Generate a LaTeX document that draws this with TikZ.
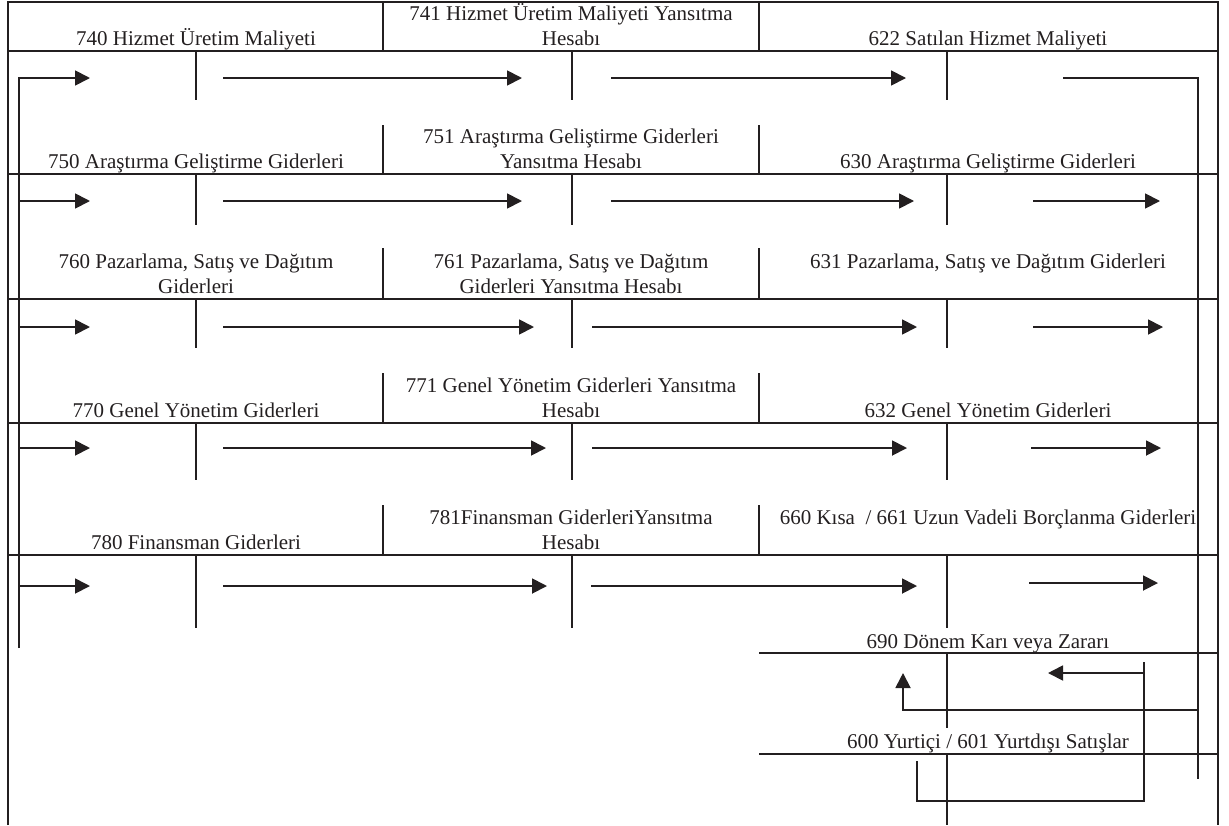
\documentclass[tikz,border=0pt]{standalone}
\usepackage{fontspec}
\setmainfont{Liberation Serif}
\usetikzlibrary{arrows.meta}
\definecolor{ink}{RGB}{35,31,32}
\tikzset{
	acct/.style={font=\fontsize{10.5}{12.5}\selectfont, align=center, inner sep=0pt, text=ink, anchor=base},
	rule/.style={draw=ink, line width=1pt},
	flow/.style={draw=ink, line width=0.9pt, -{Triangle[length=7.5pt,width=7.5pt]}},
}

\begin{document}
\begin{tikzpicture}[x=0.5pt,y=-0.5pt]
	\useasboundingbox (0,0) rectangle (1229,825);

	%%% Frame
	\draw[rule] (8,825) -- (8,2) -- (1218,2) -- (1218,825);

	%%% Row lines
	\draw[rule] (8,51) -- (1218,51);
	\draw[rule] (8,174) -- (1218,174);
	\draw[rule] (8,299) -- (1218,299);
	\draw[rule] (8,423) -- (1218,423);
	\draw[rule] (8,555) -- (1218,555);
	\draw[rule] (759,653) -- (1218,653);
	\draw[rule] (759,754) -- (1218,754);

	%%% Header dividers
	\draw[rule] (383,2) -- (383,51);   \draw[rule] (759,2) -- (759,51);
	\draw[rule] (383,125) -- (383,174); \draw[rule] (759,125) -- (759,174);
	\draw[rule] (383,248) -- (383,299); \draw[rule] (759,248) -- (759,299);
	\draw[rule] (383,373) -- (383,423); \draw[rule] (759,373) -- (759,423);
	\draw[rule] (383,505) -- (383,555); \draw[rule] (759,505) -- (759,555);

	%%% T stems
	\draw[rule] (196,51) -- (196,100);  \draw[rule] (572,51) -- (572,100);  \draw[rule] (947,51) -- (947,100);
	\draw[rule] (196,174) -- (196,225); \draw[rule] (572,174) -- (572,225); \draw[rule] (947,174) -- (947,225);
	\draw[rule] (196,299) -- (196,348); \draw[rule] (572,299) -- (572,348); \draw[rule] (947,299) -- (947,348);
	\draw[rule] (196,423) -- (196,480); \draw[rule] (572,423) -- (572,480); \draw[rule] (947,423) -- (947,480);
	\draw[rule] (196,555) -- (196,628); \draw[rule] (572,555) -- (572,628); \draw[rule] (947,555) -- (947,628);
	\draw[rule] (947,653) -- (947,728);
	\draw[rule] (947,754) -- (947,825);

	%%% Account names (base = last line)
	\node[acct] (acc740) at (196,45) {740 Hizmet Üretim Maliyeti};
	\node[acct] (acc741) at (571,45) {741 Hizmet Üretim Maliyeti Yansıtma\\Hesabı};
	\node[acct] (acc622) at (988,45) {622 Satılan Hizmet Maliyeti};
	\node[acct] (acc750) at (196,168) {750 Araştırma Geliştirme Giderleri};
	\node[acct] (acc751) at (571,168) {751 Araştırma Geliştirme Giderleri\\Yansıtma Hesabı};
	\node[acct] (acc630) at (988,168) {630 Araştırma Geliştirme Giderleri};
	\node[acct] (acc760) at (196,293) {760 Pazarlama, Satış ve Dağıtım\\Giderleri};
	\node[acct] (acc761) at (571,293) {761 Pazarlama, Satış ve Dağıtım\\Giderleri Yansıtma Hesabı};
	\node[acct] (acc631) at (988,268) {631 Pazarlama, Satış ve Dağıtım Giderleri};
	\node[acct] (acc770) at (196,417) {770 Genel Yönetim Giderleri};
	\node[acct] (acc771) at (571,417) {771 Genel Yönetim Giderleri Yansıtma\\Hesabı};
	\node[acct] (acc632) at (988,417) {632 Genel Yönetim Giderleri};
	\node[acct] (acc780) at (196,549) {780 Finansman Giderleri};
	\node[acct] (acc781) at (571,549) {781Finansman GiderleriYansıtma\\Hesabı};
	\node[acct] (acc660) at (988,524) {660 Kısa\ \ / 661 Uzun Vadeli Borçlanma Giderleri};
	\node[acct] (acc690) at (988,648) {690 Dönem Karı veya Zararı};
	\node[acct] (acc600) at (988,748) {600 Yurtiçi / 601 Yurtdışı Satışlar};

	%%% Left feed line
	\draw[flow] (19,648) -- (19,78) -- (90,78);
	\draw[flow] (19,201) -- (90,201);
	\draw[flow] (19,327) -- (90,327);
	\draw[flow] (19,448) -- (90,448);
	\draw[flow] (19,586) -- (90,586);

	%%% Transfers 7xx -> 7x1 -> 6xx
	\draw[flow] (223,78) -- (522,78);  \draw[flow] (611,78) -- (906,78);
	\draw[flow] (223,201) -- (522,201); \draw[flow] (611,201) -- (914,201);
	\draw[flow] (223,327) -- (534,327); \draw[flow] (592,327) -- (917,327);
	\draw[flow] (223,448) -- (546,448); \draw[flow] (592,448) -- (907,448);
	\draw[flow] (223,586) -- (547,586); \draw[flow] (591,586) -- (917,586);

	%%% Closing 6xx -> right line
	\draw[rule, line width=0.9pt] (1063,78) -- (1198,78) -- (1198,779);
	\draw[flow] (1033,201) -- (1160,201);
	\draw[flow] (1033,327) -- (1163,327);
	\draw[flow] (1031,448) -- (1161,448);
	\draw[flow] (1029,583) -- (1158,583);

	%%% Into 690
	\draw[flow] (1198,710) -- (903,710) -- (903,673);
	\draw[rule, line width=0.9pt] (917,761) -- (917,801) -- (1144,801) -- (1144,662);
	\draw[flow] (1144,673) -- (1048,673);

\end{tikzpicture}
\end{document}
